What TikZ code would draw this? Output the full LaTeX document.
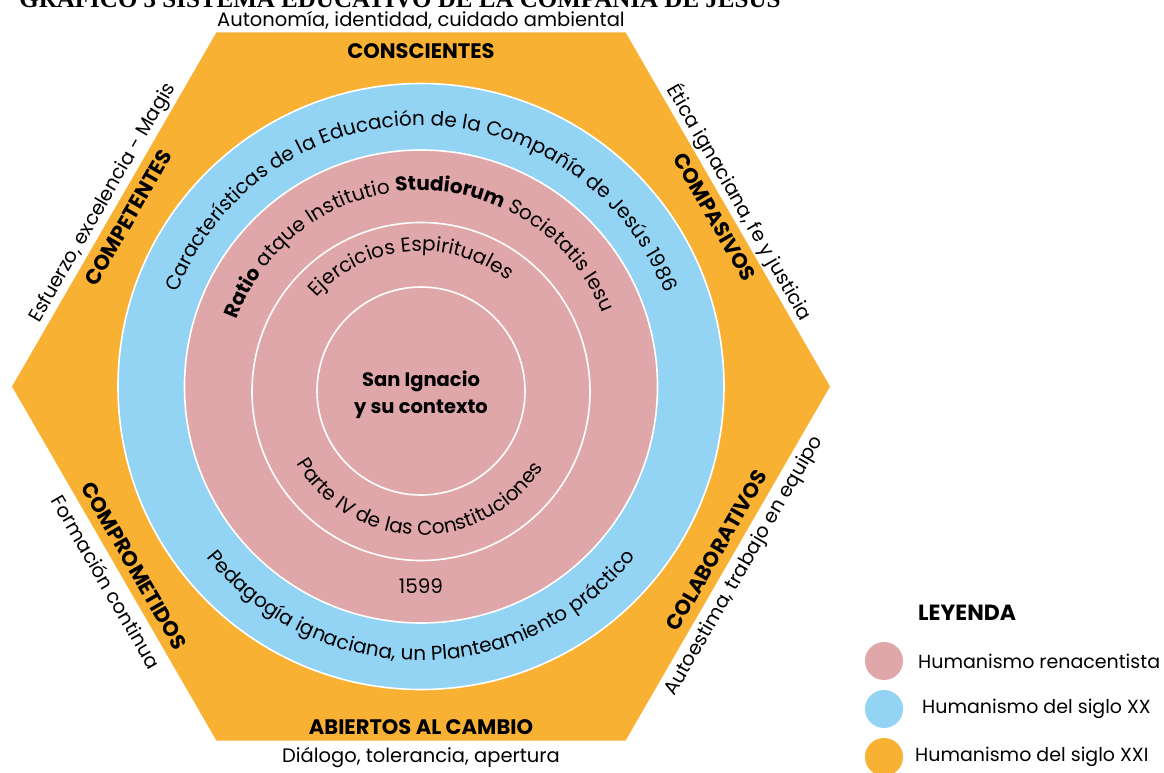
\documentclass[tikz,border=0pt]{standalone}
\usepackage{fontspec}
\setmainfont{Poppins}
\newfontfamily\titlefont{Liberation Serif}
\usetikzlibrary{decorations.text}

\newlength{\du}
\setlength{\du}{1pt}
\newcommand{\arcfont}{\fontsize{20}{24}\selectfont}

\tikzset{
  ring/.style={draw=white, line width=1.6\du},
  virtue/.style={inner sep=0pt, font=\fontsize{21}{25}\selectfont\bfseries},
  virtuenote/.style={inner sep=0pt, font=\fontsize{19.5}{23}\selectfont},
  arctext/.style={decorate, decoration={text along path, text align=center, text={#1}}},
  legenddot/.style={circle, fill=#1, minimum size=38\du, inner sep=0pt},
  legendtext/.style={anchor=west, inner sep=0pt, font=\fontsize{19}{23}\selectfont},
}

\begin{document}
\begin{tikzpicture}
\definecolor{renacentista}{rgb}{0.878, 0.655, 0.671}
\definecolor{sigloxx}{rgb}{0.576, 0.827, 0.957}
\definecolor{sigloxxi}{rgb}{0.973, 0.694, 0.200}
\useasboundingbox (-421\du,-385.5\du) rectangle (743\du,386.5\du);
% title, cut by the page edge
\node[anchor=base, inner sep=0pt, font=\titlefont\fontsize{25}{29}\selectfont\bfseries] (titulo) at (-21\du,378.5\du) {GRÁFICO 3 SISTEMA EDUCATIVO DE LA COMPAÑÍA DE JESÚS};
% hexagon
\fill[sigloxxi] (0:409\du) \foreach \a in {60,120,...,300} { -- (\a:409\du) } -- cycle;
% rings
\filldraw[ring, fill=sigloxx] (0,0) circle[radius=303\du];
\filldraw[ring, fill=renacentista] (0,0) circle[radius=236.5\du];
\draw[ring] (0,-5\du) circle[radius=169\du];
\draw[ring] (0,-4.5\du) circle[radius=104\du];
% texts along the rings
\path[arctext={|\arcfont|Características de la Educación de la Compañía de Jesús 1986}] (175:261\du) arc[start angle=175, end angle=5, radius=261\du];
\path[arctext={|\arcfont\bfseries|Ratio|\arcfont| atque Institutio |\arcfont\bfseries|Studiorum|\arcfont| Societatis Iesu}] (177:196\du) arc[start angle=177, end angle=5, radius=196\du];
\path[arctext={|\arcfont|Pedagogía ignaciana, un Planteamiento práctico}] (183:274\du) arc[start angle=183, end angle=357, radius=274\du];
\begin{scope}[shift={(0,-4.5\du)}]
\path[arctext={|\arcfont|Ejercicios Espirituales}] (175:140\du) arc[start angle=175, end angle=15, radius=140\du];
\path[arctext={|\arcfont|Parte IV de las Constituciones}] (184:144\du) arc[start angle=184, end angle=354, radius=144\du];
\end{scope}
\node[inner sep=0pt, font=\arcfont] (anio) at (0,-199.5\du) {1599};
\node[inner sep=0pt, align=center, font=\fontsize{19.5}{27}\selectfont\bfseries] (sanignacio) at (0,-8\du) {San Ignacio\\y su contexto};
% sides of the hexagon
\node[virtue] (conscientes) at (0,335\du) {CONSCIENTES};
\node[virtuenote] (autonomia) at (0,366\du) {Autonomía, identidad, cuidado ambiental};
\node[virtue] (abiertos) at (0,-340.5\du) {ABIERTOS AL CAMBIO};
\node[virtuenote] (dialogo) at (0,-370.5\du) {Diálogo, tolerancia, apertura};
\node[virtue, rotate=60] (competentes) at (150:338\du) {COMPETENTES};
\node[virtuenote, rotate=60] (esfuerzo) at (150:367\du) {Esfuerzo, excelencia - Magis};
\node[virtue, rotate=-60] (compasivos) at (30:339\du) {COMPASIVOS};
\node[virtuenote, rotate=-60] (etica) at (30:368\du) {Ética ignaciana, fe y justicia};
\node[virtue, rotate=-60] (comprometidos) at ([shift={(-60:12\du)}]210:338\du) {COMPROMETIDOS};
\node[virtuenote, rotate=-60] (formacion) at ([shift={(-60:12\du)}]210:370\du) {Formación continua};
\node[virtue, rotate=60] (colaborativos) at ([shift={(60:6\du)}]330:338\du) {COLABORATIVOS};
\node[virtuenote, rotate=60] (autoestima) at ([shift={(60:6\du)}]330:370\du) {Autoestima, trabajo en equipo};
% legend
\node[anchor=west, inner sep=0pt, font=\fontsize{22}{26}\selectfont\bfseries] (leyenda) at (497\du,-226.5\du) {LEYENDA};
\node[legenddot=renacentista] (dotrenac) at (463\du,-274.5\du) {};
\node[legendtext] (txtrenac) at (497\du,-274.5\du) {Humanismo renacentista};
\node[legenddot=sigloxx] (dotxx) at (463\du,-322.5\du) {};
\node[legendtext] (txtxx) at (501\du,-322.5\du) {Humanismo del siglo XX};
\node[legenddot=sigloxxi] (dotxxi) at (463\du,-370.5\du) {};
\node[legendtext] (txtxxi) at (494\du,-370.5\du) {Humanismo del siglo XXI};
\end{tikzpicture}
\end{document}
